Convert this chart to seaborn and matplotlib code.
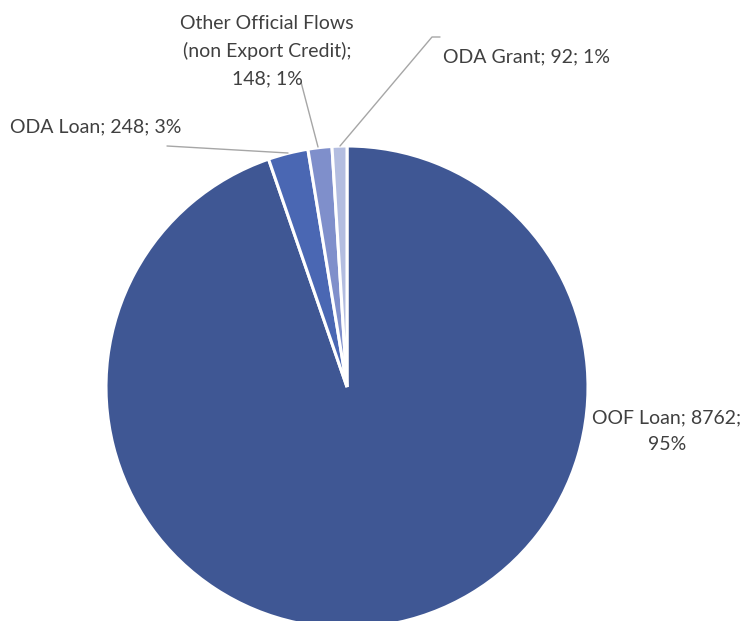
import matplotlib
matplotlib.use("Agg")
import matplotlib.pyplot as plt
import seaborn as sns

sns.set_theme(style="white")
plt.rcParams["font.family"] = ["Lato", "DejaVu Sans"]

categories = ["OOF Loan", "ODA Loan", "Other Official Flows\n(non Export Credit)", "ODA Grant"]
values = [8762, 248, 148, 92]
percent_labels = [95, 3, 1, 1]
colors = ["#3F5794", "#4A67B3", "#7F8FCB", "#B3BDE0"]

W, H = 745, 621
fig = plt.figure(figsize=(W / 100, H / 100), dpi=100)
ax = fig.add_axes([0, 0, 1, 1])

cx, cy, r = 347, H - 387, 241
ax.pie(values, colors=colors, startangle=90, counterclock=False,
       center=(cx, cy), radius=r, frame=True,
       wedgeprops=dict(edgecolor="white", linewidth=2.2))
ax.set_xlim(0, W)
ax.set_ylim(0, H)
ax.set_aspect("equal")
ax.axis("off")

txt = dict(color="#404040", fontsize=14)
lead = dict(color="#A6A6A6", lw=1)

def y(p):
    return H - p

# OOF Loan
ax.text(667, y(431), f"{categories[0]}; {values[0]};\n{percent_labels[0]}%",
        ha="center", va="center", linespacing=1.7, **txt)
# ODA Loan
ax.text(10, y(127), f"{categories[1]}; {values[1]}; {percent_labels[1]}%",
        ha="left", va="center", **txt)
ax.plot([167, 288], [y(146), y(153)], **lead)
# Other official flows
ax.text(267, y(51), f"{categories[2]};\n{values[2]}; {percent_labels[2]}%",
        ha="center", va="center", linespacing=1.7, **txt)
ax.plot([301, 318], [y(82), y(147)], **lead)
# ODA Grant
ax.text(443, y(57), f"{categories[3]}; {values[3]}; {percent_labels[3]}%",
        ha="left", va="center", **txt)
ax.plot([340, 432, 440], [y(146), y(37), y(37)], **lead)

fig.savefig("out.png", dpi=100, facecolor="white")
